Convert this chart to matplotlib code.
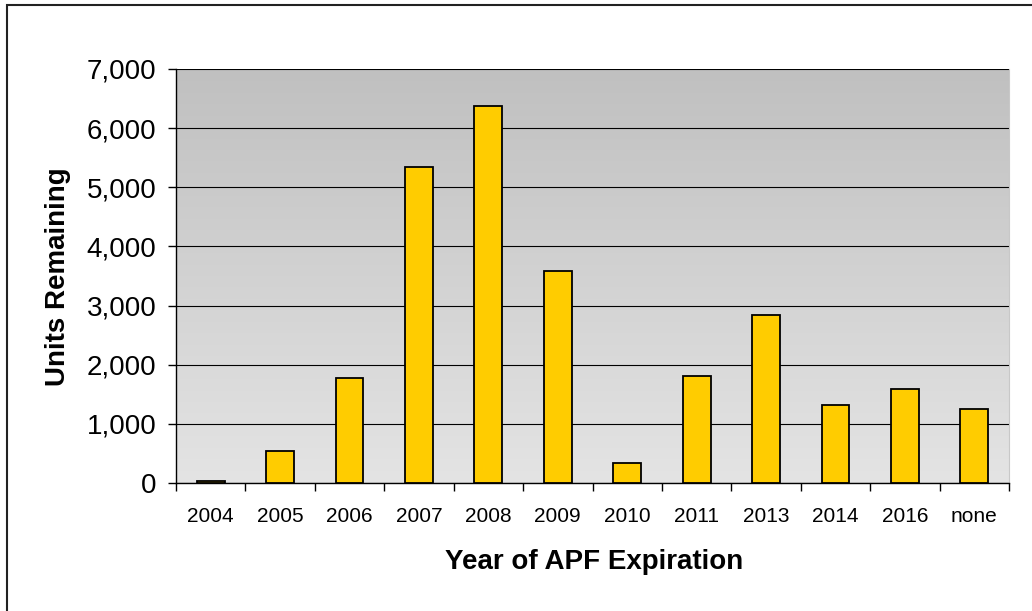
import matplotlib.pyplot as plt
import numpy as np
from matplotlib.patches import Rectangle
from matplotlib.ticker import FuncFormatter

plt.rcParams['font.family'] = ['Liberation Sans', 'DejaVu Sans']

years = ['2004', '2005', '2006', '2007', '2008', '2009', '2010',
         '2011', '2013', '2014', '2016', 'none']
units = [30, 545, 1770, 5350, 6370, 3590, 340, 1805, 2845, 1325, 1595, 1255]

fig = plt.figure(figsize=(10.32, 6.11), dpi=100)
ax = fig.add_axes([176/1032, 1 - 483/611, 833/1032, 414/611])

# gradient background of the plot area
grad = np.linspace(228, 192, 256).reshape(-1, 1) / 255.0
ax.imshow(np.dstack([grad, grad, grad]), extent=[0, 1, 0, 1], transform=ax.transAxes,
          aspect='auto', zorder=0, origin='lower')

x = np.arange(len(years))
ax.bar(x, units, width=0.4, color='#FFCC00', edgecolor='black', linewidth=1.3, zorder=3)

ax.set_xlim(-0.5, len(years) - 0.5)
ax.set_ylim(0, 7000)
ax.set_yticks(range(0, 7001, 1000))
ax.yaxis.set_major_formatter(FuncFormatter(lambda v, p: f'{int(v):,}'))
ax.grid(axis='y', color='black', linewidth=0.8, zorder=1)
ax.set_axisbelow(True)

ax.set_xticks(x)
ax.set_xticklabels(years, fontsize=15)
ax.set_xticks(np.arange(-0.5, len(years), 1), minor=True)
ax.tick_params(axis='x', which='major', length=0, pad=17)
ax.tick_params(axis='x', which='minor', length=6, width=1, direction='out')
ax.tick_params(axis='y', labelsize=20, length=6, width=1, direction='out', pad=8)

ax.spines['top'].set_visible(False)
ax.spines['right'].set_color('#C8C8C8')
ax.spines['left'].set_linewidth(1)
ax.spines['bottom'].set_linewidth(1)

fig.text(594/1032, 1 - 562/611, 'Year of APF Expiration', fontsize=20,
         fontweight='bold', ha='center', va='center')
fig.text(58/1032, 1 - 277/611, 'Units Remaining', fontsize=20, fontweight='bold',
         rotation=90, ha='center', va='center')

# outer chart border (only top and left are visible in the original)
fig.patches.append(Rectangle((7/1032, -0.1), 1.1, 1 - 5/611 + 0.1,
                             transform=fig.transFigure, fill=False,
                             edgecolor='#222222', linewidth=1.5))

fig.savefig('out.png', dpi=100)
